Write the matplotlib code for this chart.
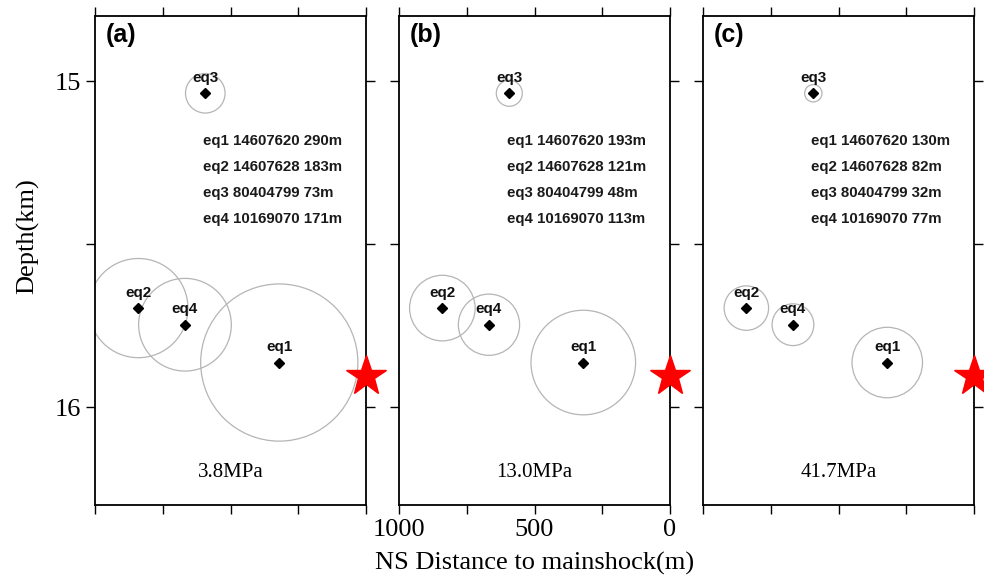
import matplotlib
matplotlib.use("Agg")
import matplotlib.pyplot as plt
from matplotlib.patches import Ellipse

# ---- data ----
events = ["eq1", "eq2", "eq3", "eq4"]
event_ids = ["14607620", "14607628", "80404799", "10169070"]
ns_dist = [320, 840, 593, 668]            # m to mainshock
depth = [15.863, 15.696, 15.037, 15.747]  # km
radii_a = [290, 183, 73, 171]
radii_b = [193, 121, 48, 113]
radii_c = [130, 82, 32, 77]
radii_sets = [radii_a, radii_b, radii_c]
stress = ["3.8MPa", "13.0MPa", "41.7MPa"]
panel_labels = ["(a)", "(b)", "(c)"]
mainshock_x = 0
mainshock_depth = 15.905
xticks = [0, 250, 500, 750, 1000]
xticklabels = ["0", "", "500", "", "1000"]
yticks = [15, 15.5, 16]
yticklabels = ["15", "", "16"]

W, H = 984, 585
fig = plt.figure(figsize=(W / 100, H / 100), dpi=100)
SANS = "Liberation Sans"
SERIF = "Liberation Serif"

lefts = [95, 399, 703]
ax_w, ax_top, ax_bot = 271, 16, 505
xlim = (1000, 0)
ylim = (16.3, 14.8)

for i in range(3):
    ax = fig.add_axes([lefts[i] / W, 1 - ax_bot / H, ax_w / W, (ax_bot - ax_top) / H])
    ax.set_xlim(*xlim)
    ax.set_ylim(*ylim)
    for s in ax.spines.values():
        s.set_linewidth(1.3)
    ax.tick_params(direction="out", length=6.5, width=1.0, top=True, right=True,
                   labelsize=19)
    ax.set_xticks(xticks)
    ax.set_yticks(yticks)
    if i == 1:
        ax.set_xticklabels(xticklabels, fontfamily=SERIF)
        ax.set_xlabel("NS Distance to mainshock(m)", fontfamily=SERIF, fontsize=19,
                      labelpad=8)
    else:
        ax.set_xticklabels([])
    if i == 0:
        ax.set_yticklabels(yticklabels, fontfamily=SERIF)
        ax.set_ylabel("Depth(km)", fontfamily=SERIF, fontsize=19)
        ax.yaxis.set_label_coords(-0.205, 0.55)
    else:
        ax.set_yticklabels([])

    # circle aspect: radius in metres drawn round in pixel space
    px_per_m = ax_w / 1000.0
    px_per_km = (ax_bot - ax_top) / 1.5
    k = px_per_m / px_per_km
    radii = radii_sets[i]
    for x, d, r in zip(ns_dist, depth, radii):
        ax.add_patch(Ellipse((x, d), width=2 * r, height=2 * r * k, fill=False,
                             edgecolor="#b5b5b5", linewidth=0.9, zorder=2))
    ax.plot(ns_dist, depth, linestyle="none", marker="D", markersize=5,
            color="black", zorder=3)
    for name, x, d in zip(events, ns_dist, depth):
        ax.annotate(name, (x, d), xytext=(0, 6), textcoords="offset points",
                    ha="center", va="bottom", fontsize=11, fontweight="bold",
                    fontfamily=SANS, color="#111111", zorder=4)
    for j, (name, eid, r) in enumerate(zip(events, event_ids, radii)):
        ax.text(600, 15.182 + 0.08 * j, f"{name} {eid} {r}m", ha="left", va="center",
                fontsize=10.8, fontweight="bold", fontfamily=SANS, color="#1a1a1a")
    ax.plot([mainshock_x], [mainshock_depth], marker="*", markersize=30,
            color="red", markeredgecolor="red", linestyle="none", clip_on=False,
            zorder=10)
    ax.text(0.5, 16.2, stress[i], transform=ax.get_yaxis_transform(),
            ha="center", va="center", fontsize=15, fontfamily=SERIF)
    ax.text(0.04, 0.961, panel_labels[i], transform=ax.transAxes, ha="left",
            va="center", fontsize=18, fontweight="bold", fontfamily=SANS)

fig.savefig("out.png", dpi=100)
